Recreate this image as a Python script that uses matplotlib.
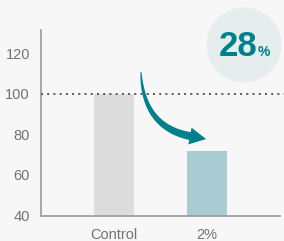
import matplotlib
matplotlib.use("Agg")
import numpy as np
import matplotlib.pyplot as plt
from matplotlib.patches import Ellipse, Polygon

categories = ["Control", "2%"]
values = [100, 72]
bar_colors = ["#dcdcdc", "#a9cbd2"]
yticks = [40, 60, 80, 100, 120]
badge_main = "28"
badge_unit = "%"

W, H = 284, 241
fig = plt.figure(figsize=(W / 100, H / 100), dpi=100)
bg = "#f8f7f8"
fig.patch.set_facecolor(bg)
plt.rcParams['font.family'] = ['Liberation Sans', 'DejaVu Sans']

ax = fig.add_axes([41 / W, 1 - 215.5 / H, (280 - 41) / W, (215.5 - 30) / H])
ax.set_facecolor(bg)
x = list(range(len(categories)))
ax.bar(x, values, width=0.43, color=bar_colors, zorder=2)
ax.set_xlim(-0.785, 1.785)
ax.set_ylim(40, 131.5)
ax.set_yticks(yticks)
ax.set_yticklabels([str(t) for t in yticks])
ax.set_xticks(x)
ax.set_xticklabels(categories)
ax.tick_params(length=0, labelsize=10.5, labelcolor="#727272", pad=8)
ax.tick_params(axis='x', pad=9)
for s in ["top", "right"]:
    ax.spines[s].set_visible(False)
for s in ["left", "bottom"]:
    ax.spines[s].set_color("#9a9a9a")
    ax.spines[s].set_linewidth(1.2)

ax.plot([-0.785, 1.83], [100, 100], color="#555555", lw=1.4,
        ls=(0, (1, 2.2)), clip_on=False, zorder=3)

teal = "#00808a"

# tapered curved arrow (annotation), built in display pixels from data anchors
fig.canvas.draw()
T = ax.transData
p0 = np.array(T.transform((0.29, 110.8)))
p1 = np.array(T.transform((0.312, 83.7)))
p2 = np.array(T.transform((0.817, 79.2)))
tip = np.array(T.transform((0.99, 77.7)))
t = np.linspace(0, 1, 80)[:, None]
curve = (1 - t) ** 2 * p0 + 2 * (1 - t) * t * p1 + t ** 2 * p2
d = np.gradient(curve, axis=0)
d /= np.linalg.norm(d, axis=1)[:, None]
nrm = np.stack([-d[:, 1], d[:, 0]], axis=1)
wid = (0.4 + 3.6 * t[:, 0] ** 0.7)[:, None]
left = curve + nrm * wid
right = curve - nrm * wid
hd = (tip - p2) / np.linalg.norm(tip - p2)
hn = np.array([-hd[1], hd[0]])
hw = 8.5
head = [p2 + hn * hw, tip, p2 - hn * hw]
pts = np.vstack([left, head, right[::-1]])
fig.patches.append(Polygon(pts, closed=True, transform=None, facecolor=teal,
                           edgecolor="none", zorder=5))

circ = Ellipse((244 / W, 1 - 45 / H), 75 / W, 75 / H, transform=fig.transFigure,
               facecolor="#e6eded", edgecolor="none", zorder=1)
fig.patches.append(circ)
fig.text(257 / W, 1 - 56 / H, badge_main, ha="right", va="baseline",
         fontsize=25, fontweight="bold", color=teal)
fig.text(257.5 / W, 1 - 56 / H, badge_unit, ha="left", va="baseline",
         fontsize=10, fontweight="bold", color=teal)

fig.savefig("out.png", dpi=100, facecolor=bg)
